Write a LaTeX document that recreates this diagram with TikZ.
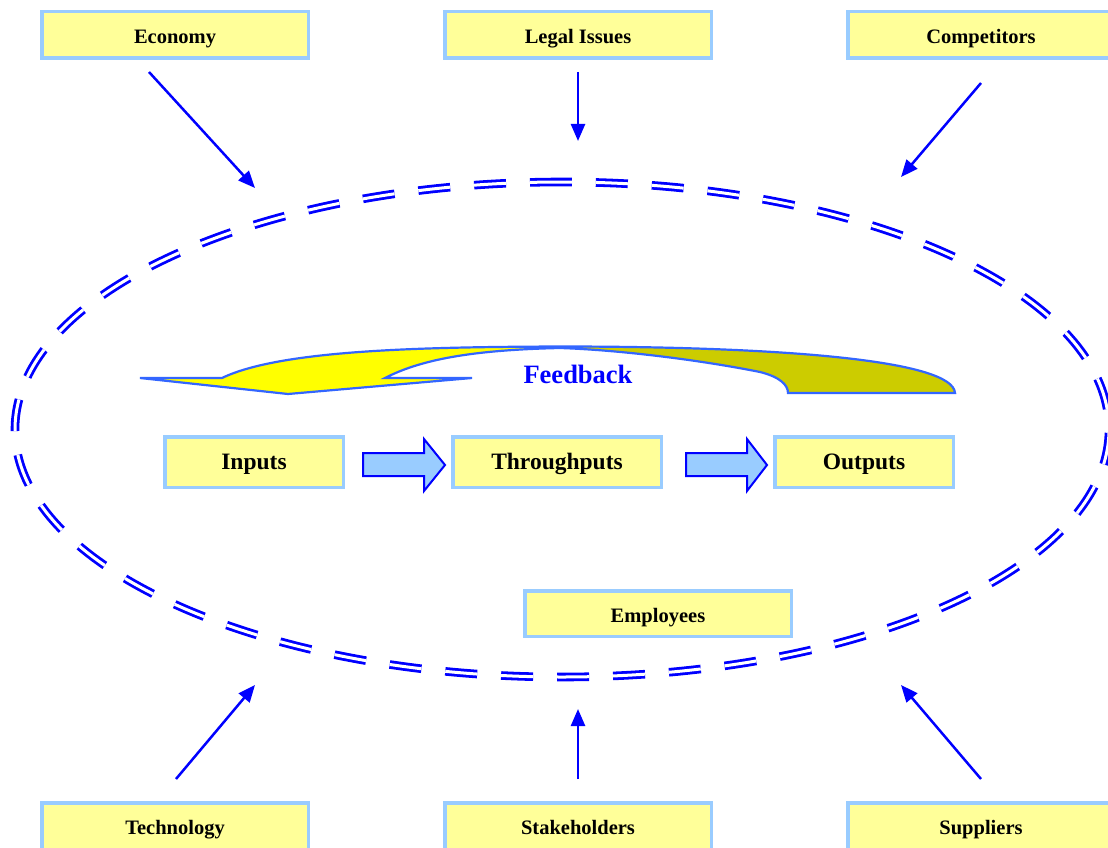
\documentclass[tikz,border=0pt]{standalone}
\usepackage{fontspec}
\setmainfont{Liberation Serif}
\usetikzlibrary{arrows.meta}
\definecolor{boxfill}{HTML}{FFFF99}
\definecolor{boxline}{HTML}{99CCFF}
\definecolor{arrowblue}{HTML}{0000FF}
\definecolor{fbline}{HTML}{3366FF}
\definecolor{fbyellow}{HTML}{FFFF00}
\definecolor{fbolive}{HTML}{CCCC00}
\definecolor{blockfill}{HTML}{99CCFF}
\newcommand\fbshape{(140,378) -- (222,378) .. controls (280,350) and (420,347) .. (560,346.5) .. controls (780,346.5) and (953,360) .. (955,393) -- (788,393) .. controls (788,385) and (780,377) .. (760,372) .. controls (700,360) and (620,350) .. (560,348) .. controls (470,350) and (420,360) .. (385,378) -- (472,378) -- (288,394) -- cycle}
\begin{document}
\begin{tikzpicture}[x=1pt,y=-1pt,
 envbox/.style={draw=boxline, fill=boxfill, line width=3.5pt, minimum width=266.5pt, minimum height=46.5pt, inner sep=0pt, text height=17.5pt, text depth=0pt, font=\fontsize{20.5}{24}\selectfont\bfseries},
 corebox/.style={draw=boxline, fill=boxfill, line width=3.5pt, minimum width=178.5pt, minimum height=50.5pt, inner sep=0pt, text height=15.5pt, text depth=0pt, font=\fontsize{23.5}{28}\selectfont\bfseries},
 envarrow/.style={draw=arrowblue, line width=2.5pt, -{Triangle[length=17pt,width=14pt]}},
 blockarrow/.style={draw=arrowblue, fill=blockfill, line width=2pt, line join=miter},
 ring/.style={draw=arrowblue, double=white, double distance=3pt, line width=2.8pt, dash pattern=on 32pt off 24pt},
]
\useasboundingbox (0,0) rectangle (1108,848);

% environment ring
\draw[ring] (562,182) arc[start angle=90, end angle=450, x radius=547pt, y radius=247.5pt];

% environment boxes
\node[envbox] (economy) at (175,35) {Economy};
\node[envbox] (legal) at (578,35) {Legal Issues};
\node[envbox] (competitors) at (981,35) {Competitors};
\node[envbox] (technology) at (175,826) {Technology};
\node[envbox] (stakeholders) at (578,826) {Stakeholders};
\node[envbox] (suppliers) at (981,826) {Suppliers};
\node[envbox, minimum height=45.5pt] (employees) at (658,613.5) {Employees};

% arrow coordinates
\coordinate (ecoS) at (149,72);   \coordinate (ecoE) at (255,188);
\coordinate (legS) at (578,72);   \coordinate (legE) at (578,141);
\coordinate (comS) at (981,83);   \coordinate (comE) at (901,177);
\coordinate (tecS) at (176,779);  \coordinate (tecE) at (255,685);
\coordinate (staS) at (578,779);  \coordinate (staE) at (578,709);
\coordinate (supS) at (981,779);  \coordinate (supE) at (901,685);

\draw[envarrow] (ecoS) -- (ecoE);
\draw[envarrow] (legS) -- (legE);
\draw[envarrow] (comS) -- (comE);
\draw[envarrow] (tecS) -- (tecE);
\draw[envarrow] (staS) -- (staE);
\draw[envarrow] (supS) -- (supE);

% core process
\node[corebox] (inputs) at (254,462) {Inputs};
\node[corebox, minimum width=208.5pt] (through) at (557,462) {Throughputs};
\node[corebox] (outputs) at (864,462) {Outputs};

\draw[blockarrow] (363,453) -- (424,453) -- (424,439) -- (445,465) -- (424,491) -- (424,476) -- (363,476) -- cycle;
\draw[blockarrow] (686,453) -- (747,453) -- (747,439) -- (767,465) -- (747,491) -- (747,476) -- (686,476) -- cycle;

% feedback arrow
\fill[fbyellow] \fbshape;
\begin{scope}
\clip (580,330) rectangle (970,400);
\fill[fbolive] \fbshape;
\end{scope}
\draw[fbline, line width=2.2pt, line join=miter] \fbshape;
\node[font=\fontsize{26.5}{30}\selectfont\bfseries, text=arrowblue] (feedback) at (578,374) {Feedback};
\end{tikzpicture}
\end{document}
